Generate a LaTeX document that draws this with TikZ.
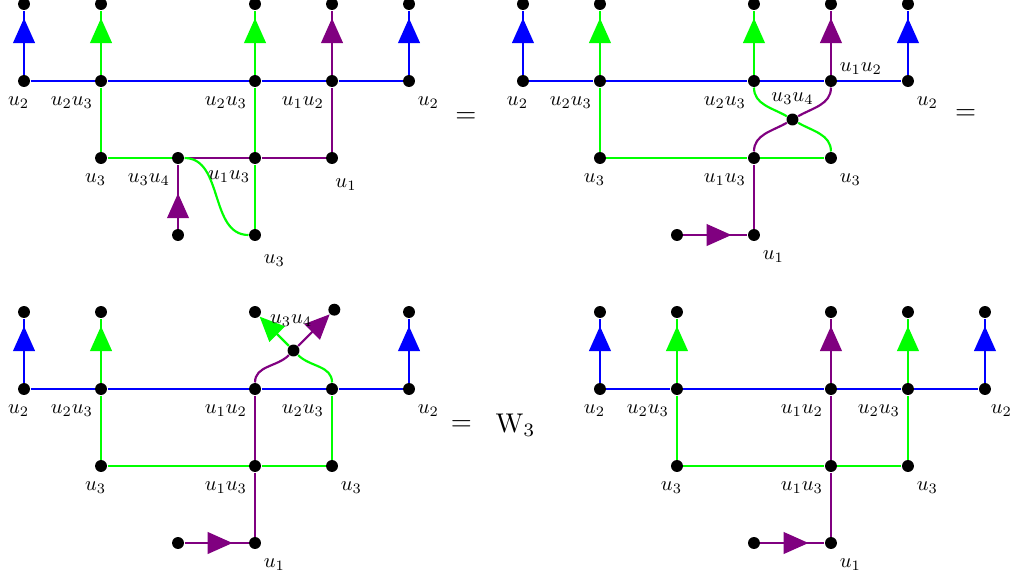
\documentclass[tikz,border=0pt]{standalone}
\usetikzlibrary{positioning, arrows.meta, decorations.markings}

\definecolor{purpleline}{RGB}{128,0,128}

\begin{document}
\begin{tikzpicture}[
    node distance=1cm,
    dot/.style={on grid, circle, fill=black, inner sep=0pt, minimum size=0.155cm},
    lbl/.style={inner sep=0pt, scale=0.76},
    bline/.style={thick, draw=blue},
    gline/.style={thick, draw=green},
    pline/.style={thick, draw=purpleline},
    midarrow/.style={postaction={decorate}, decoration={markings,
        mark=at position #1 with {\arrow{Triangle[length=9.2pt, width=8pt]}}}},
    midarrow/.default=0.88,
    endarrow/.style={-{Triangle[length=9.2pt, width=8pt]}},
]
\useasboundingbox (-0.312,0.052) rectangle (12.818,-7.442);

%% PANEL 1
    % dots
    \node[dot] (p1a1) at (0,-1) {};
    \node[dot, right=of p1a1] (p1a2) {};
    \node[dot, right=2cm of p1a2] (p1a3) {};
    \node[dot, right=of p1a3] (p1a4) {};
    \node[dot, right=of p1a4] (p1a5) {};
    \node[dot, above=of p1a1] (p1t1) {};
    \node[dot, above=of p1a2] (p1t2) {};
    \node[dot, above=of p1a3] (p1t3) {};
    \node[dot, above=of p1a4] (p1t4) {};
    \node[dot, above=of p1a5] (p1t5) {};
    \node[dot, below=of p1a2] (p1b1) {};
    \node[dot, right=of p1b1] (p1b2) {};
    \node[dot, below=of p1a3] (p1b3) {};
    \node[dot, below=of p1a4] (p1b4) {};
    \node[dot, below=of p1b2] (p1c1) {};
    \node[dot, below=of p1b3] (p1c2) {};

    % lines
    \draw[bline] (p1a1) -- (p1a2) -- (p1a3) -- (p1a4) -- (p1a5);
    \draw[bline, midarrow] (p1a1) -- (p1t1);
    \draw[bline, midarrow] (p1a5) -- (p1t5);
    \draw[gline, midarrow] (p1a2) -- (p1t2);
    \draw[gline, midarrow] (p1a3) -- (p1t3);
    \draw[pline, midarrow] (p1a4) -- (p1t4);
    \draw[gline] (p1a2) -- (p1b1) -- (p1b2);
    \draw[gline] (p1a3) -- (p1b3) -- (p1c2);
    \draw[pline] (p1b2) -- (p1b3) -- (p1b4) -- (p1a4);
    \draw[gline] (p1b2) to[out=0, in=180] (p1c2);
    \draw[pline, midarrow=0.55] (p1c1) -- (p1b2);

    % labels
    \node[lbl, below left=0.14cm and -0.13cm of p1a1] (p1la1) {$u_2$};
    \node[lbl, below left=0.14cm and 0.04cm of p1a2] (p1la2) {$u_2u_3$};
    \node[lbl, below left=0.14cm and 0.04cm of p1a3] (p1la3) {$u_2u_3$};
    \node[lbl, below left=0.14cm and 0.04cm of p1a4] (p1la4) {$u_1u_2$};
    \node[lbl, below right=0.14cm and 0.05cm of p1a5] (p1la5) {$u_2$};
    \node[lbl, below left=0.14cm and -0.13cm of p1b1] (p1lb1) {$u_3$};
    \node[lbl, below left=0.14cm and 0.04cm of p1b2] (p1lb2) {$u_3u_4$};
    \node[lbl, below left=0.1cm and 0cm of p1b3] (p1lb3) {$u_1u_3$};
    \node[lbl, below right=0.2cm and -0.02cm of p1b4] (p1lb4) {$u_1$};
    \node[lbl, below right=0.19cm and 0.05cm of p1c2] (p1lc2) {$u_3$};

    \node (p1eq) at (5.74,-1.48) {$=$};

%% PANEL 2
    % dots
    \node[dot] (p2a1) at (6.48,-1) {};
    \node[dot, right=of p2a1] (p2a2) {};
    \node[dot, right=2cm of p2a2] (p2a3) {};
    \node[dot, right=of p2a3] (p2a4) {};
    \node[dot, right=of p2a4] (p2a5) {};
    \node[dot, above=of p2a1] (p2t1) {};
    \node[dot, above=of p2a2] (p2t2) {};
    \node[dot, above=of p2a3] (p2t3) {};
    \node[dot, above=of p2a4] (p2t4) {};
    \node[dot, above=of p2a5] (p2t5) {};
    \node[dot, below right=0.5cm and 0.5cm of p2a3] (p2x) {};
    \node[dot, below=of p2a2] (p2b1) {};
    \node[dot, below=of p2a3] (p2b3) {};
    \node[dot, below=of p2a4] (p2b4) {};
    \node[dot, below=of p2b3] (p2c2) {};
    \node[dot, left=of p2c2] (p2c1) {};

    % lines
    \draw[bline] (p2a1) -- (p2a2) -- (p2a3) -- (p2a4) -- (p2a5);
    \draw[bline, midarrow] (p2a1) -- (p2t1);
    \draw[bline, midarrow] (p2a5) -- (p2t5);
    \draw[gline, midarrow] (p2a2) -- (p2t2);
    \draw[gline, midarrow] (p2a3) -- (p2t3);
    \draw[pline, midarrow] (p2a4) -- (p2t4);
    \draw[gline] (p2a2) -- (p2b1) -- (p2b3) -- (p2b4);
    \draw[gline] (p2a3) to[out=-90, in=150] (p2x) to[out=-30, in=90] (p2b4);
    \draw[pline] (p2a4) to[out=-90, in=30] (p2x) to[out=-150, in=90] (p2b3);
    \draw[pline] (p2b3) -- (p2c2);
    \draw[pline, midarrow=0.75] (p2c1) -- (p2c2);

    % labels
    \node[lbl, below left=0.14cm and -0.13cm of p2a1] (p2la1) {$u_2$};
    \node[lbl, below left=0.14cm and 0.04cm of p2a2] (p2la2) {$u_2u_3$};
    \node[lbl, below left=0.14cm and 0.04cm of p2a3] (p2la3) {$u_2u_3$};
    \node[lbl, above right=0.02cm and 0.05cm of p2a4] (p2la4) {$u_1u_2$};
    \node[lbl, below right=0.14cm and 0.05cm of p2a5] (p2la5) {$u_2$};
    \node[lbl, above=0.1cm of p2x] (p2lx) {$u_3u_4$};
    \node[lbl, below left=0.14cm and -0.13cm of p2b1] (p2lb1) {$u_3$};
    \node[lbl, below left=0.14cm and 0.04cm of p2b3] (p2lb3) {$u_1u_3$};
    \node[lbl, below right=0.14cm and 0.05cm of p2b4] (p2lb4) {$u_3$};
    \node[lbl, below right=0.14cm and 0.05cm of p2c2] (p2lc2) {$u_1$};

    \node (p2eq) at (12.23,-1.43) {$=$};

%% PANEL 3
    % dots
    \node[dot] (p3a1) at (0,-5) {};
    \node[dot, right=of p3a1] (p3a2) {};
    \node[dot, right=2cm of p3a2] (p3a3) {};
    \node[dot, right=of p3a3] (p3a4) {};
    \node[dot, right=of p3a4] (p3a5) {};
    \node[dot, above=of p3a1] (p3t1) {};
    \node[dot, above=of p3a2] (p3t2) {};
    \node[dot, above=of p3a5] (p3t5) {};
    \node[dot, above right=0.5cm and 0.5cm of p3a3] (p3x) {};
    \node[dot, above left=0.5cm and 0.5cm of p3x] (p3tg) {};
    \node[dot, above right=0.53cm and 0.53cm of p3x] (p3tp) {};
    \node[dot, below=of p3a2] (p3b1) {};
    \node[dot, below=of p3a3] (p3b3) {};
    \node[dot, below=of p3a4] (p3b4) {};
    \node[dot, below=of p3b3] (p3c2) {};
    \node[dot, left=of p3c2] (p3c1) {};

    % lines
    \draw[bline] (p3a1) -- (p3a2) -- (p3a3) -- (p3a4) -- (p3a5);
    \draw[bline, midarrow] (p3a1) -- (p3t1);
    \draw[bline, midarrow] (p3a5) -- (p3t5);
    \draw[gline, midarrow] (p3a2) -- (p3t2);
    \draw[gline] (p3a2) -- (p3b1) -- (p3b3) -- (p3b4) -- (p3a4);
    \draw[gline, endarrow] (p3a4) to[out=90, in=-45] (p3x) -- (p3tg);
    \draw[pline, endarrow] (p3a3) to[out=90, in=-135] (p3x) -- (p3tp);
    \draw[pline] (p3a3) -- (p3b3) -- (p3c2);
    \draw[pline, midarrow=0.75] (p3c1) -- (p3c2);

    % labels
    \node[lbl, below left=0.14cm and -0.13cm of p3a1] (p3la1) {$u_2$};
    \node[lbl, below left=0.14cm and 0.04cm of p3a2] (p3la2) {$u_2u_3$};
    \node[lbl, below left=0.14cm and 0.04cm of p3a3] (p3la3) {$u_1u_2$};
    \node[lbl, below left=0.14cm and 0.04cm of p3a4] (p3la4) {$u_2u_3$};
    \node[lbl, below right=0.14cm and 0.05cm of p3a5] (p3la5) {$u_2$};
    \node[lbl, above=0.22cm of p3x, xshift=-0.04cm] (p3lx) {$u_3u_4$};
    \node[lbl, below left=0.14cm and -0.13cm of p3b1] (p3lb1) {$u_3$};
    \node[lbl, below left=0.14cm and 0.04cm of p3b3] (p3lb3) {$u_1u_3$};
    \node[lbl, below right=0.14cm and 0.05cm of p3b4] (p3lb4) {$u_3$};
    \node[lbl, below right=0.14cm and 0.05cm of p3c2] (p3lc2) {$u_1$};

    \node (p3eq) at (5.68,-5.47) {$=$};
    \node[right=0.06cm of p3eq] (w3) {$\mathrm{W}_3$};

%% PANEL 4
    % dots
    \node[dot] (p4a1) at (7.48,-5) {};
    \node[dot, right=of p4a1] (p4a2) {};
    \node[dot, right=2cm of p4a2] (p4a3) {};
    \node[dot, right=of p4a3] (p4a4) {};
    \node[dot, right=of p4a4] (p4a5) {};
    \node[dot, above=of p4a1] (p4t1) {};
    \node[dot, above=of p4a2] (p4t2) {};
    \node[dot, above=of p4a3] (p4t3) {};
    \node[dot, above=of p4a4] (p4t4) {};
    \node[dot, above=of p4a5] (p4t5) {};
    \node[dot, below=of p4a2] (p4b1) {};
    \node[dot, below=of p4a3] (p4b3) {};
    \node[dot, below=of p4a4] (p4b4) {};
    \node[dot, below=of p4b3] (p4c2) {};
    \node[dot, left=of p4c2] (p4c1) {};

    % lines
    \draw[bline] (p4a1) -- (p4a2) -- (p4a3) -- (p4a4) -- (p4a5);
    \draw[bline, midarrow] (p4a1) -- (p4t1);
    \draw[bline, midarrow] (p4a5) -- (p4t5);
    \draw[gline, midarrow] (p4a2) -- (p4t2);
    \draw[gline, midarrow] (p4a4) -- (p4t4);
    \draw[pline, midarrow] (p4a3) -- (p4t3);
    \draw[gline] (p4a2) -- (p4b1) -- (p4b3) -- (p4b4) -- (p4a4);
    \draw[pline] (p4c2) -- (p4b3) -- (p4a3);
    \draw[pline, midarrow=0.75] (p4c1) -- (p4c2);

    % labels
    \node[lbl, below left=0.14cm and -0.13cm of p4a1] (p4la1) {$u_2$};
    \node[lbl, below left=0.14cm and 0.04cm of p4a2] (p4la2) {$u_2u_3$};
    \node[lbl, below left=0.14cm and 0.04cm of p4a3] (p4la3) {$u_1u_2$};
    \node[lbl, below left=0.14cm and 0.04cm of p4a4] (p4la4) {$u_2u_3$};
    \node[lbl, below right=0.14cm and 0.01cm of p4a5] (p4la5) {$u_2$};
    \node[lbl, below left=0.14cm and -0.13cm of p4b1] (p4lb1) {$u_3$};
    \node[lbl, below left=0.14cm and 0.04cm of p4b3] (p4lb3) {$u_1u_3$};
    \node[lbl, below right=0.14cm and 0.05cm of p4b4] (p4lb4) {$u_3$};
    \node[lbl, below right=0.14cm and 0.05cm of p4c2] (p4lc2) {$u_1$};

\end{tikzpicture}
\end{document}
